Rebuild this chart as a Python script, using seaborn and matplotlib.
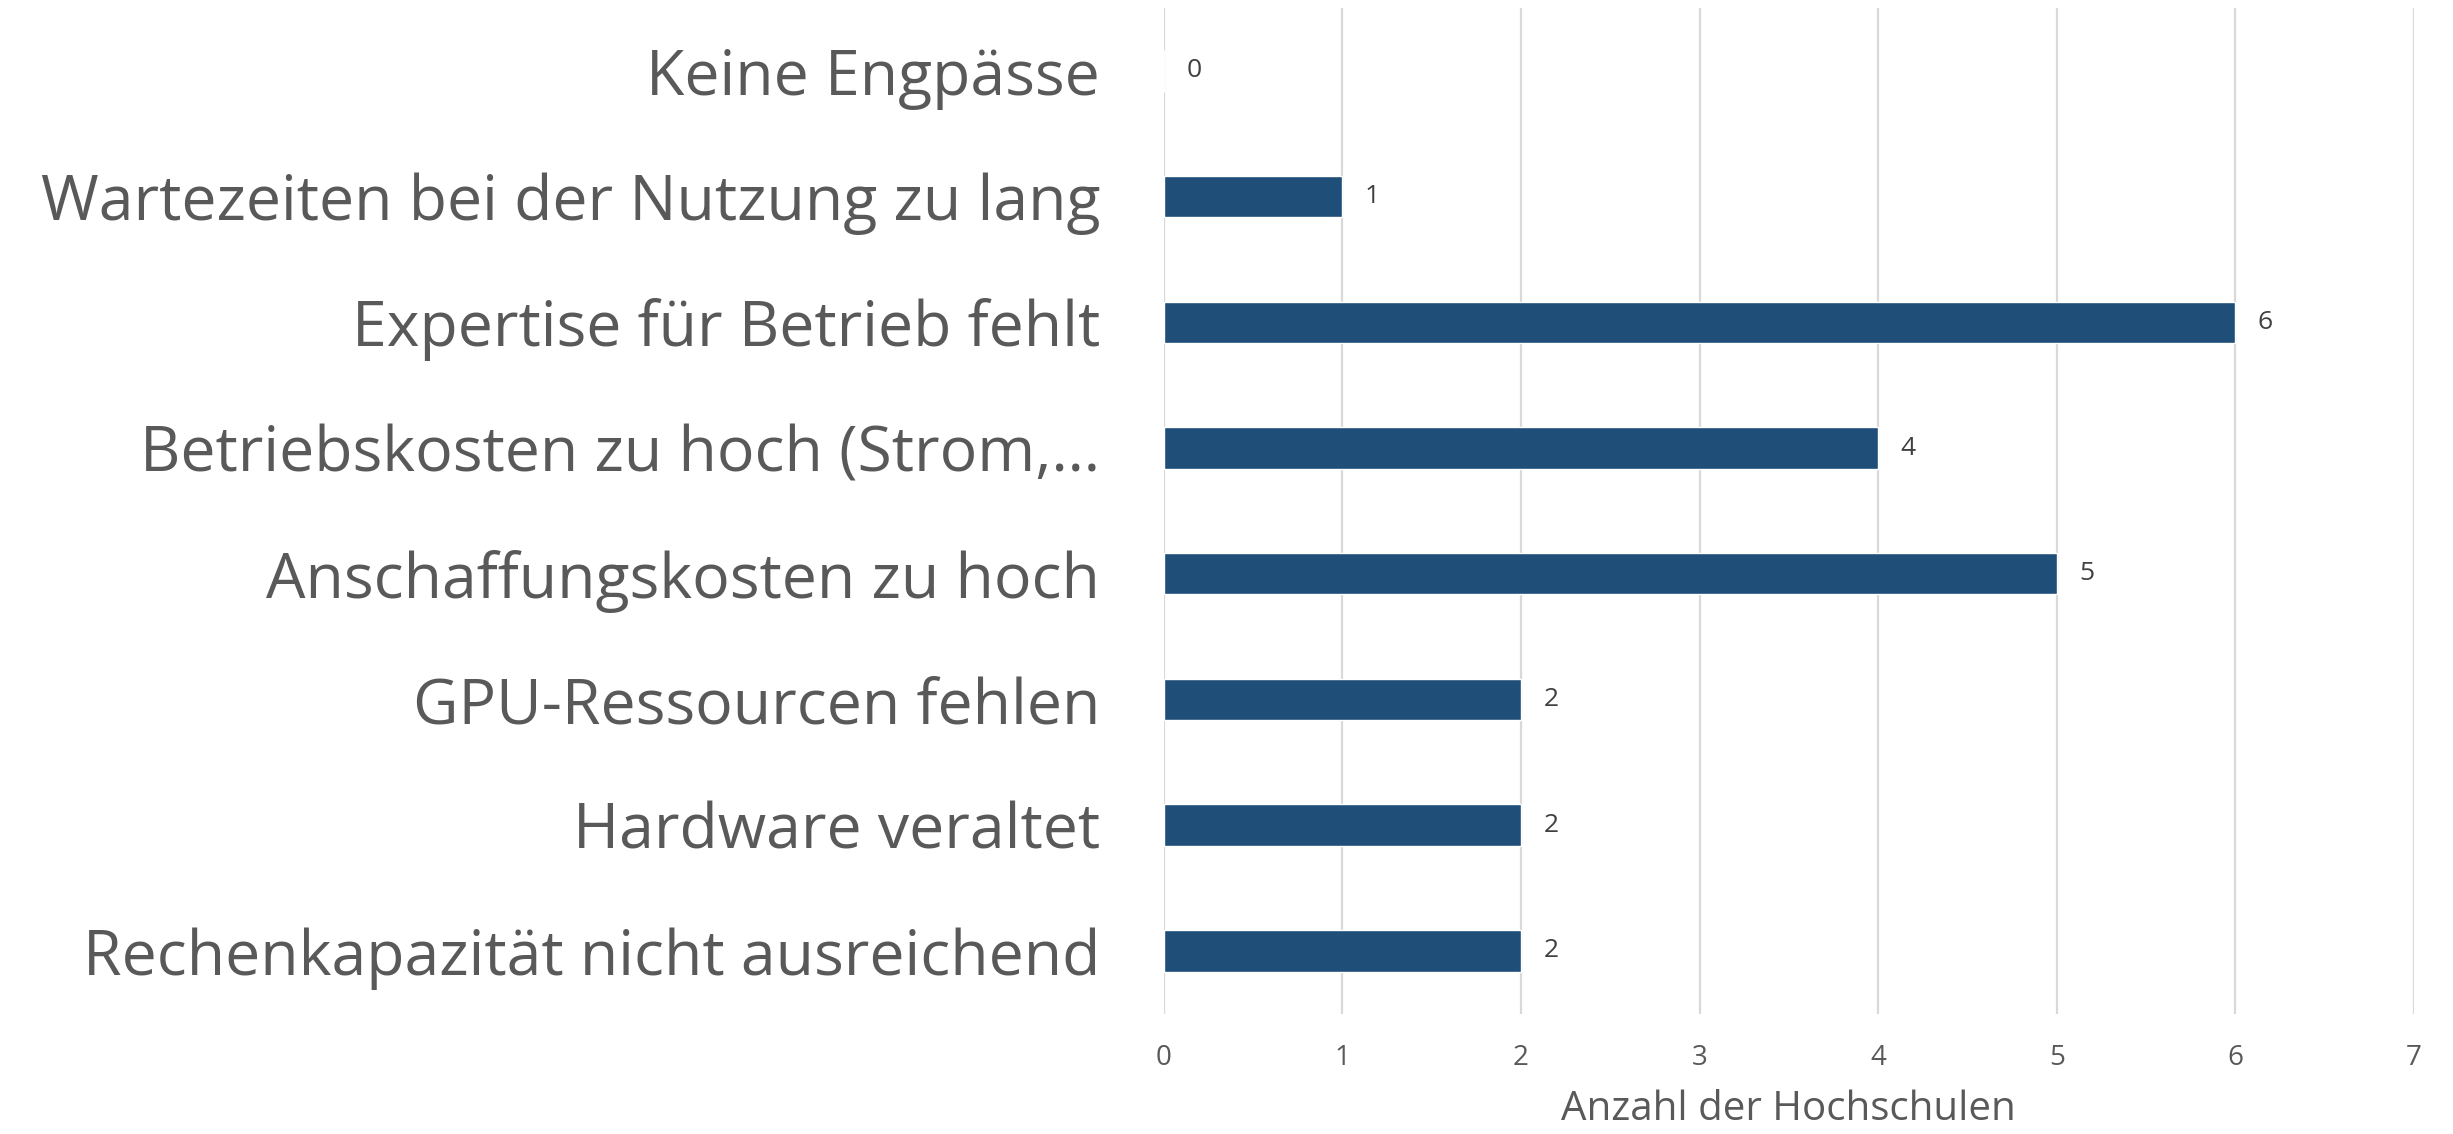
import pandas as pd
import matplotlib.pyplot as plt
import seaborn as sns

categories = ['Keine Engpässe', 'Wartezeiten bei der Nutzung zu lang', 'Expertise für Betrieb fehlt',
              'Betriebskosten zu hoch (Strom,…', 'Anschaffungskosten zu hoch', 'GPU-Ressourcen fehlen',
              'Hardware veraltet', 'Rechenkapazität nicht ausreichend']
counts = [0, 1, 6, 4, 5, 2, 2, 2]

df = pd.DataFrame({'Kategorie': categories, 'Anzahl': counts})

sns.set_style('white')
plt.rcParams['font.family'] = ['Open Sans', 'DejaVu Sans']
text_color = '#595959'

fig = plt.figure(figsize=(24.53, 11.34), dpi=100)
ax = fig.add_axes([0.4745, 0.106, 0.5095, 0.887])

sns.barplot(data=df, x='Anzahl', y='Kategorie', orient='h', color='#1F4E79',
            width=0.33, saturation=1, ax=ax)

ax.set_xlim(0, 7)
ax.set_ylim(7.5, -0.5)
ax.set_xticks(range(8))
ax.grid(axis='x', color='#D9D9D9', linewidth=1.6)
ax.set_axisbelow(True)
for s in ax.spines.values():
    s.set_visible(False)

ax.tick_params(axis='x', length=0, pad=22, labelsize=20, labelcolor=text_color)
ax.tick_params(axis='y', length=0, pad=46, labelsize=45, labelcolor=text_color)
ax.set_ylabel('')
ax.set_xlabel('Anzahl der Hochschulen', fontsize=29, color=text_color, labelpad=12)

ax.bar_label(ax.containers[0], padding=16, fontsize=19, color='#404040')

plt.savefig('out.png', dpi=100)
